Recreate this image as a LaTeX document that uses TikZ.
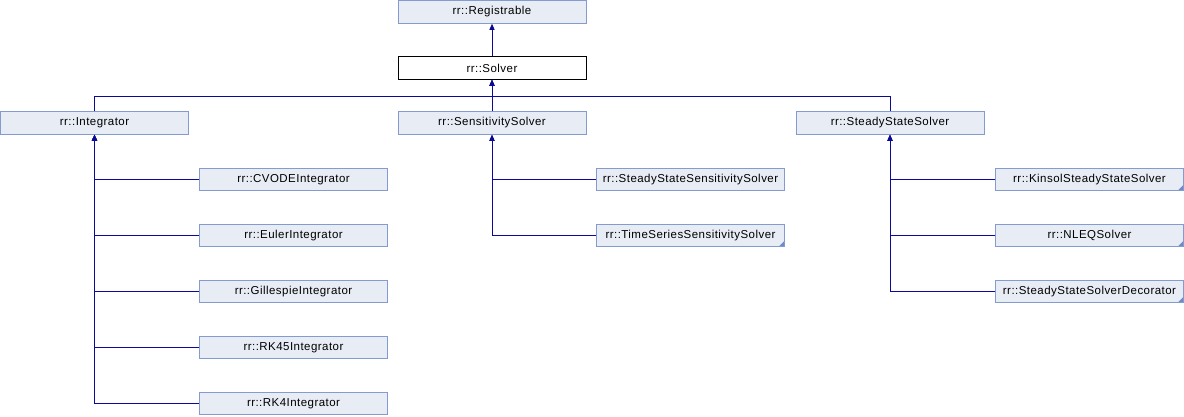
\documentclass[tikz,border=0pt]{standalone}
\usepackage{fontspec}
\setmainfont[LetterSpace=4]{Liberation Sans}
\usetikzlibrary{arrows.meta}
\definecolor{boxfill}{RGB}{232,236,245}
\definecolor{boxline}{RGB}{132,155,207}
\definecolor{cornerc}{RGB}{110,138,200}
\definecolor{edgec}{RGB}{10,10,150}
\begin{document}
\begin{tikzpicture}[x=1pt,y=-1pt,
  cls/.style={draw=boxline, fill=boxfill, line width=1pt, minimum width=188pt, minimum height=22.5pt, inner sep=0pt, font=\fontsize{11.5pt}{13pt}\selectfont},
  cur/.style={cls, draw=black, fill=white},
  edge/.style={draw=edgec, line width=1pt, -{Triangle[width=5pt,length=6pt]}},
  more/.style={path picture={\fill[cornerc] ([xshift=-6pt]path picture bounding box.south east) -- (path picture bounding box.south east) -- ([yshift=6pt]path picture bounding box.south east) -- cycle;}}
]
\useasboundingbox (0,0) rectangle (1184,416);
% top
\node[cls] (reg) at (492,12) {rr::Registrable};
\node[cur] (sol) at (492,68) {rr::Solver};
\node[cls] (int) at (94.5,123) {rr::Integrator};
\node[cls] (sens) at (492,123) {rr::SensitivitySolver};
\node[cls] (sss) at (890,123) {rr::SteadyStateSolver};
% integrators
\node[cls] (cvode) at (293.5,179.5) {rr::CVODEIntegrator};
\node[cls] (euler) at (293.5,235.5) {rr::EulerIntegrator};
\node[cls] (gill) at (293.5,291.5) {rr::GillespieIntegrator};
\node[cls] (rk45) at (293.5,347.5) {rr::RK45Integrator};
\node[cls] (rk4) at (293.5,403.5) {rr::RK4Integrator};
% sensitivity
\node[cls] (sssens) at (690.5,179.5) {rr::SteadyStateSensitivitySolver};
\node[cls,more] (tssens) at (690.5,235.5) {rr::TimeSeriesSensitivitySolver};
% steady state
\node[cls,more] (kin) at (1089.5,179.5) {rr::KinsolSteadyStateSolver};
\node[cls,more] (nleq) at (1089.5,235.5) {rr::NLEQSolver};
\node[cls,more] (dec) at (1089.5,291.5) {rr::SteadyStateSolverDecorator};
% edges
\coordinate (bar) at (492,96);
\draw[edge] (sol) -- (reg);
\draw[edge] (int.north) |- (bar) -- (sol.south);
\draw[edge] (sens.north) -- (sol.south);
\draw[edge] (sss.north) |- (bar) -- (sol.south);
\foreach \c in {cvode,euler,gill,rk45,rk4} \draw[edge] (\c.west) -| (int.south);
\foreach \c in {sssens,tssens} \draw[edge] (\c.west) -| (sens.south);
\foreach \c in {kin,nleq,dec} \draw[edge] (\c.west) -| (sss.south);
\end{tikzpicture}
\end{document}
